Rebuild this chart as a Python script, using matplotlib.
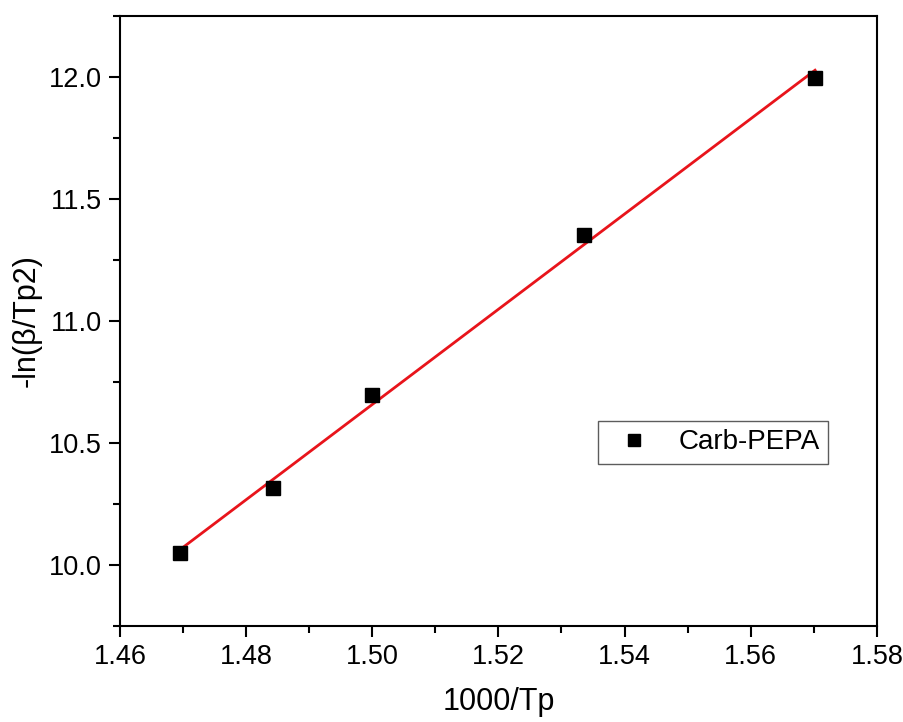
import numpy as np
import matplotlib
matplotlib.use('Agg')
import matplotlib.pyplot as plt
from matplotlib.ticker import MultipleLocator

plt.rcParams['font.family'] = ['Liberation Sans', 'DejaVu Sans']

# Kissinger plot data: 1000/Tp against -ln(beta/Tp^2)
inv_tp = np.array([1.4695, 1.4842, 1.5000, 1.5336, 1.5702])
neg_ln = np.array([10.049, 10.316, 10.698, 11.351, 11.996])
series_name = 'Carb-PEPA'

# linear fit through the points
slope, intercept = np.polyfit(inv_tp, neg_ln, 1)
fit_x = np.array([inv_tp.min(), inv_tp.max()])
fit_y = slope * fit_x + intercept

fig = plt.figure(figsize=(9.04, 7.22), dpi=100)
ax = fig.add_axes([0.1327, 0.133, 0.8373, 0.845])

ax.plot(inv_tp, neg_ln, 's', color='black', markersize=9.5, label=series_name, zorder=3)
ax.plot(fit_x, fit_y, color='#e8141b', linewidth=2.0, zorder=2)

ax.set_xlim(1.46, 1.58)
ax.set_ylim(9.75, 12.25)
ax.xaxis.set_major_locator(MultipleLocator(0.02))
ax.xaxis.set_minor_locator(MultipleLocator(0.01))
ax.yaxis.set_major_locator(MultipleLocator(0.5))
ax.yaxis.set_minor_locator(MultipleLocator(0.25))
ax.xaxis.set_major_formatter(plt.FormatStrFormatter('%.2f'))
ax.yaxis.set_major_formatter(plt.FormatStrFormatter('%.1f'))

ax.tick_params(which='major', direction='out', length=8, width=1.5, labelsize=19.5, pad=5)
ax.tick_params(which='minor', direction='out', length=5, width=1.5)
for sp in ax.spines.values():
    sp.set_linewidth(1.5)

ax.set_xlabel('1000/Tp', fontsize=22, labelpad=12)
ax.set_ylabel('-ln(β/Tp2)', fontsize=22, labelpad=5)

leg = ax.legend(loc='upper left', bbox_to_anchor=(0.631, 0.336), fontsize=20,
                frameon=True, fancybox=False, edgecolor='#333333',
                handletextpad=0.6, borderpad=0.3, borderaxespad=0,
                markerscale=0.85)
leg.get_frame().set_linewidth(1.0)

fig.savefig('out.png', dpi=100)
